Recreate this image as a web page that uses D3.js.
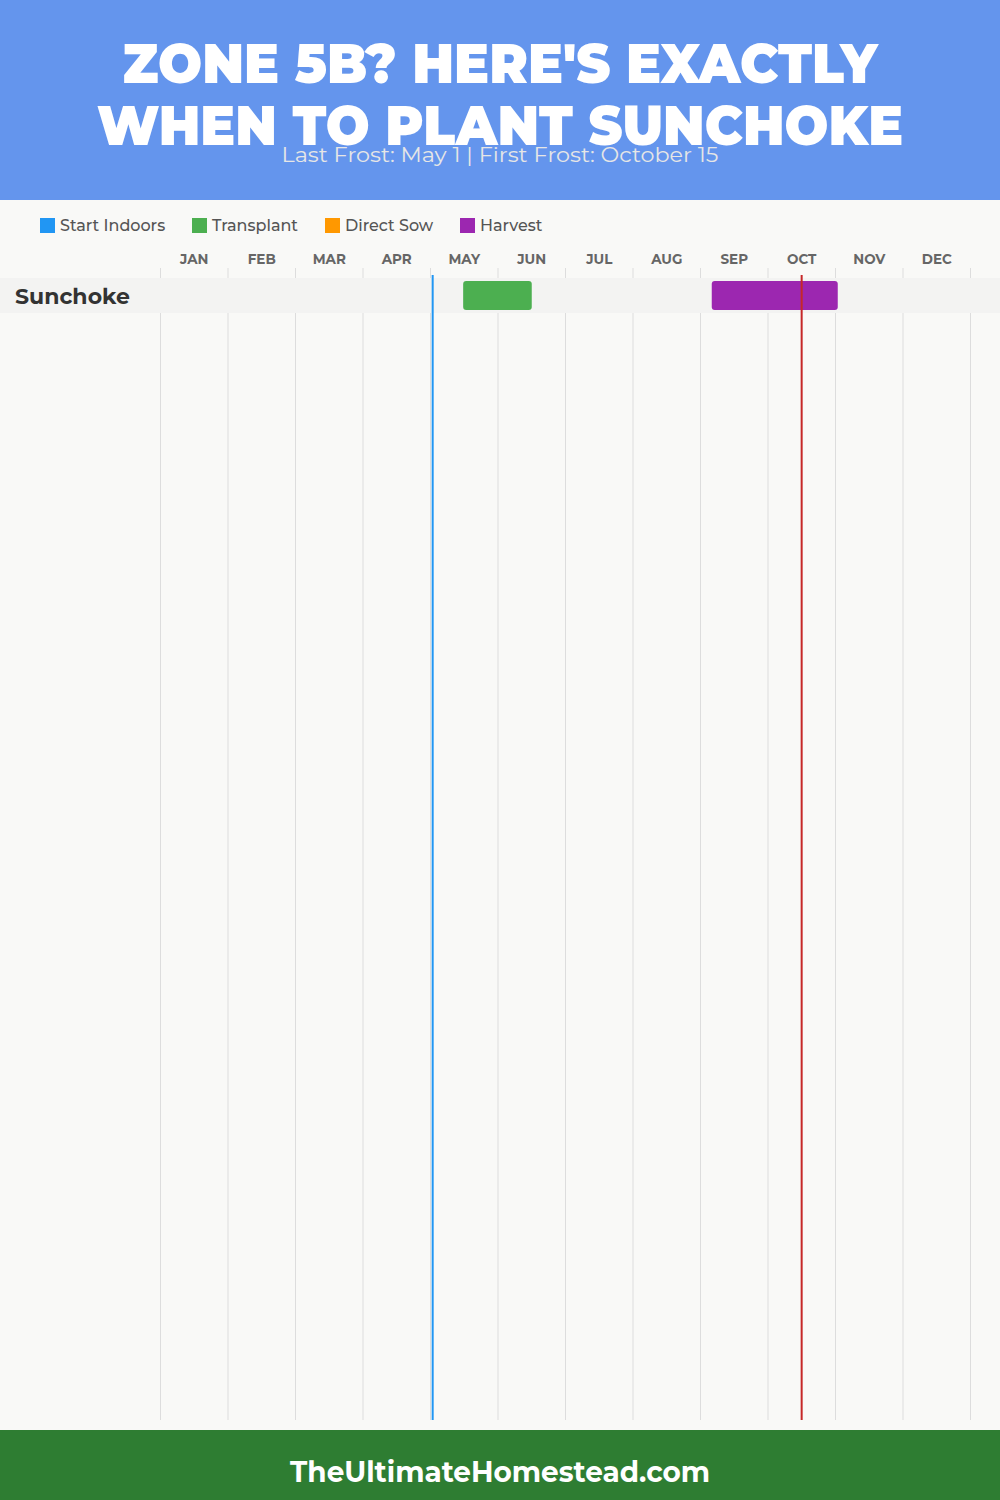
<!DOCTYPE html>
<html><head><meta charset="utf-8">
<script src="https://cdn.jsdelivr.net/npm/d3@7"></script>
<style>body{margin:0;background:#f9f9f7;}svg{display:block;}</style>
</head><body>
<script>
const titleLines = ["ZONE 5B? HERE'S EXACTLY", "WHEN TO PLANT SUNCHOKE"];
const subtitle = "Last Frost: May 1 | First Frost: October 15";
const footerText = "TheUltimateHomestead.com";
const months = ["JAN","FEB","MAR","APR","MAY","JUN","JUL","AUG","SEP","OCT","NOV","DEC"];
const daysInMonth = [31,28,31,30,31,30,31,31,30,31,30,31];
const legendNames = ["Start Indoors","Transplant","Direct Sow","Harvest"];
const legendColors = ["#2196F3","#4CAF50","#FF9800","#9C27B0"];
const crops = ["Sunchoke"];
// periods: [crop, type, startMonth(0-based), startDay, endMonth, endDay]
const periods = [
  ["Sunchoke","Transplant",4,15,5,15],
  ["Sunchoke","Harvest",8,5,10,1]
];
const lastFrost = [4,1];
const firstFrost = [9,15];

const W=1000,H=1500;
const svg=d3.select("body").append("svg").attr("width",W).attr("height",H);
const font="Montserrat, Lato, 'Open Sans', sans-serif";
svg.append("rect").attr("width",W).attr("height",H).attr("fill","#f9f9f7");
svg.append("rect").attr("width",W).attr("height",200).attr("fill","#6495ED");
const tl=[{t:titleLines[0],y:83,w:755},{t:titleLines[1],y:145,w:806}];
svg.selectAll(".title").data(tl).join("text").attr("x",W/2).attr("y",d=>d.y)
  .attr("text-anchor","middle").attr("fill","#fff").attr("font-family",font)
  .attr("font-weight",900).attr("font-size",56).attr("textLength",d=>d.w).attr("lengthAdjust","spacingAndGlyphs").text(d=>d.t);
svg.append("text").attr("x",W/2).attr("y",162).attr("text-anchor","middle").attr("fill","#e6e6e6")
  .attr("font-family",font).attr("font-size",20).attr("textLength",437).attr("lengthAdjust","spacingAndGlyphs").text(subtitle);

// legend
const lx=[40,192,325,460];
const lg=svg.selectAll(".lg").data(legendNames).join("g").attr("transform",(d,i)=>`translate(${lx[i]},218)`);
lg.append("rect").attr("width",15).attr("height",15).attr("fill",(d,i)=>legendColors[i]);
lg.append("text").attr("x",20).attr("y",13).attr("font-family",font).attr("font-weight",500).attr("font-size",16).attr("fill","#555").text(d=>d);

// scales
const x=d3.scaleLinear().domain([0,12]).range([160.5,970.5]);
const pos=(m,d)=>x(m+d/daysInMonth[m]);
const y=d3.scaleBand().domain(crops).range([278,313]);
const gTop=268,gBottom=1420;

svg.selectAll(".grid").data(d3.range(13)).join("line").attr("x1",d=>x(d)).attr("x2",d=>x(d))
  .attr("y1",gTop).attr("y2",gBottom).attr("stroke","#ddd").attr("stroke-width",1);
svg.selectAll(".mlab").data(months).join("text").attr("x",(d,i)=>x(i+0.5)).attr("y",264)
  .attr("text-anchor","middle").attr("font-family",font).attr("font-weight",700).attr("font-size",13.5)
  .attr("fill","#666").text(d=>d);

svg.selectAll(".band").data(crops).join("rect").attr("x",0).attr("width",W).attr("y",d=>y(d)).attr("height",y.bandwidth()).attr("fill","#f3f3f2");
svg.selectAll(".clab").data(crops).join("text").attr("x",15).attr("y",d=>y(d)+y.bandwidth()/2+8)
  .attr("font-family",font).attr("font-weight",700).attr("font-size",22).attr("fill","#333").text(d=>d);

const col=d3.scaleOrdinal().domain(legendNames).range(legendColors);
svg.selectAll(".bar").data(periods).join("rect").attr("x",d=>pos(d[2],d[3])).attr("width",d=>pos(d[4],d[5])-pos(d[2],d[3]))
  .attr("y",d=>y(d[0])+3).attr("height",y.bandwidth()-6).attr("rx",3).attr("fill",d=>col(d[1]));

svg.append("line").attr("x1",pos(...lastFrost)).attr("x2",pos(...lastFrost)).attr("y1",275).attr("y2",gBottom).attr("stroke","#2196F3").attr("stroke-width",2);
svg.append("line").attr("x1",pos(...firstFrost)+1).attr("x2",pos(...firstFrost)+1).attr("y1",275).attr("y2",gBottom).attr("stroke","#C62828").attr("stroke-width",2);

svg.append("rect").attr("y",1430).attr("width",W).attr("height",70).attr("fill","#2E7D32");
svg.append("text").attr("x",W/2).attr("y",1482).attr("text-anchor","middle").attr("fill","#fff")
  .attr("font-family",font).attr("font-weight",700).attr("font-size",29).attr("textLength",420).attr("lengthAdjust","spacingAndGlyphs").text(footerText);
</script>
</body></html>
